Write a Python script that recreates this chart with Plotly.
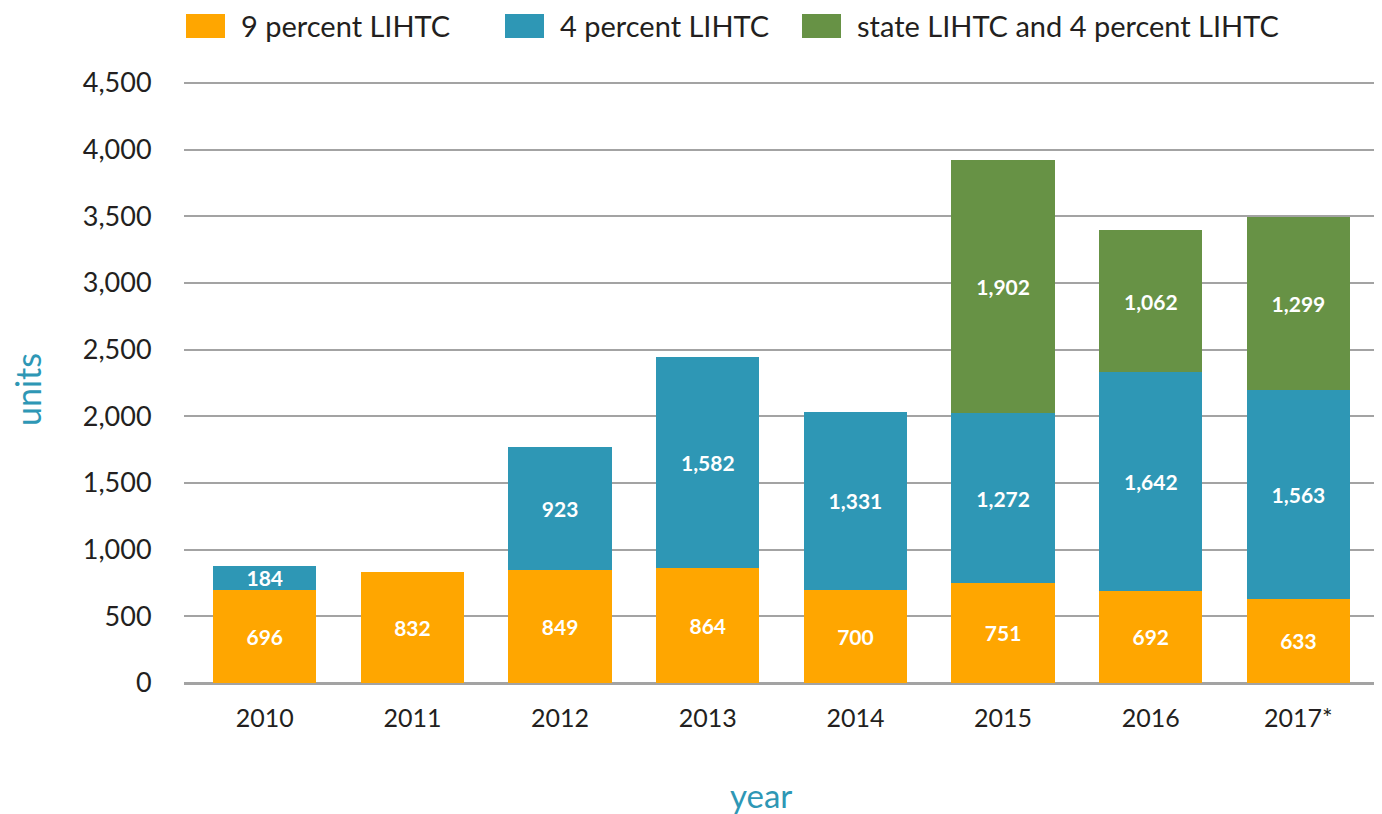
import plotly.graph_objects as go

years = ["2010", "2011", "2012", "2013", "2014", "2015", "2016", "2017*"]
nine_pct = [696, 832, 849, 864, 700, 751, 692, 633]
four_pct = [184, None, 923, 1582, 1331, 1272, 1642, 1563]
state_four = [None, None, None, None, None, 1902, 1062, 1299]
series_names = ["9 percent LIHTC", "4 percent LIHTC", "state LIHTC and 4 percent LIHTC"]
series_colors = ["#FFA600", "#2E97B5", "#679245"]
y_ticks = [0, 500, 1000, 1500, 2000, 2500, 3000, 3500, 4000, 4500]

FONT = "Lato"
OFF = 8  # browser default body margin
W, H = 1382 - OFF, 814 - OFF
# plot area in target picture pixels: x 184..1382, y 79..683 (4,500 at y=83)
L, R, T, B = 184 - OFF, 0, 79 - OFF, 814 - 683
Y_TOP = 4500 + 4 * 4500 / 600  # headroom so the 4,500 grid line shows

fig = go.Figure()
for name, vals, col in zip(series_names, [nine_pct, four_pct, state_four], series_colors):
    fig.add_trace(go.Bar(
        x=years, y=vals, name=name, marker=dict(color=col, line=dict(width=0)),
        width=0.7, texttemplate="%{y:,}", textposition="inside",
        insidetextanchor="middle", textangle=0, constraintext="none",
        textfont=dict(family=FONT, size=21, color="white", weight="bold"),
        showlegend=False, hoverinfo="skip"))

fig.update_layout(
    barmode="stack", width=W, height=H,
    margin=dict(l=L, r=R, t=T, b=B, pad=0),
    plot_bgcolor="white", paper_bgcolor="white",
    font=dict(family=FONT, color="#231F20"),
)
fig.update_xaxes(
    range=[-0.547, 7.566], showgrid=False, zeroline=False, showline=False,
    ticks="outside", ticklen=13, tickcolor="rgba(0,0,0,0)",
    tickfont=dict(family=FONT, size=25, color="#231F20"), fixedrange=True)
fig.update_yaxes(
    range=[0, Y_TOP], tickvals=y_ticks, tickformat=",",
    showgrid=True, gridcolor="#A3A3A3", gridwidth=2,
    zeroline=True, zerolinecolor="#A3A3A3", zerolinewidth=3,
    showline=False, ticks="outside", ticklen=26, tickcolor="rgba(0,0,0,0)",
    tickfont=dict(family=FONT, size=27, color="#231F20"), fixedrange=True)

# custom legend (large swatches); coordinates in target picture pixels
def px2x(px):
    return (px - OFF - L) / (W - L - R)

def py2y(py):
    return (H - B - (py - OFF)) / (H - T - B)

legend_swatch_left = [186, 505, 802]
for name, col, sx in zip(series_names, series_colors, legend_swatch_left):
    fig.add_shape(type="rect", xref="paper", yref="paper",
                  x0=px2x(sx), x1=px2x(sx + 39), y0=py2y(38), y1=py2y(14),
                  fillcolor=col, line=dict(width=0))
    fig.add_annotation(text=name, xref="paper", yref="paper",
                       x=px2x(sx + 53), y=py2y(25), xanchor="left", yanchor="middle",
                       showarrow=False, font=dict(family=FONT, size=29, color="#231F20"))

fig.add_annotation(text="units", xref="paper", yref="paper", x=px2x(27), y=py2y(390),
                   textangle=-90, showarrow=False, xanchor="center", yanchor="middle",
                   font=dict(family=FONT, size=34, color="#2E97B5"))
fig.add_annotation(text="year", xref="paper", yref="paper", x=px2x(761), y=py2y(795),
                   showarrow=False, xanchor="center", yanchor="middle",
                   font=dict(family=FONT, size=33, color="#2E97B5"))

fig.write_html("out.html")
